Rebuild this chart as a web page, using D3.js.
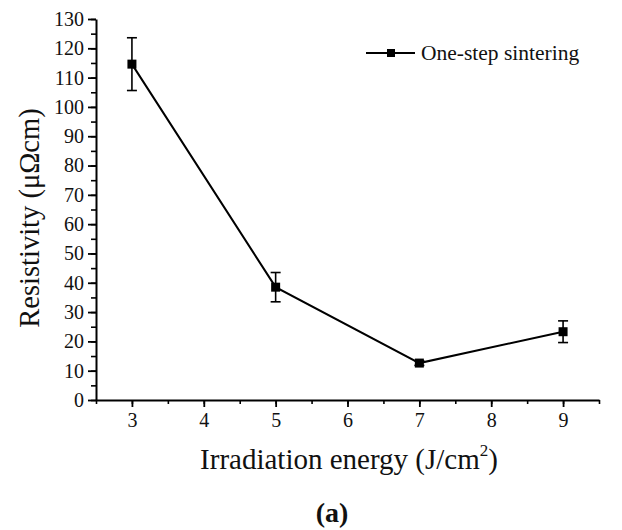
<!DOCTYPE html>
<html><head><meta charset="utf-8">
<script src="https://cdn.jsdelivr.net/npm/d3@7"></script>
<style>body{margin:0;background:#fff}svg{display:block}</style>
</head><body>
<svg id="c" width="622" height="530"></svg>
<script>
const energy = [3, 5, 7, 9];
const resistivity = [114.6, 38.5, 12.6, 23.3];
const errors = [9, 5, 0.8, 3.7];
const seriesName = "One-step sintering";
const xTicks = [3, 4, 5, 6, 7, 8, 9];
const yTicks = [0,10,20,30,40,50,60,70,80,90,100,110,120,130];

const svg = d3.select("#c");
const L = 96, R = 599, T = 19, B = 400;
const x = d3.scaleLinear().domain([2.5, 9.5]).range([L, R]);
const y = d3.scaleLinear().domain([0, 130]).range([B, T]);
const font = "'Liberation Serif', 'Times New Roman', serif";

// minor ticks
svg.append("g").attr("transform", `translate(0,${B})`)
  .call(d3.axisBottom(x).tickValues(d3.range(2.5, 9.51, 0.5)).tickSize(4).tickFormat(""))
  .call(g => g.select(".domain").remove())
  .selectAll("line").attr("stroke", "#000").attr("stroke-width", 1.6);
svg.append("g").attr("transform", `translate(${L},0)`)
  .call(d3.axisLeft(y).tickValues(d3.range(0, 131, 5)).tickSize(5).tickFormat(""))
  .call(g => g.select(".domain").remove())
  .selectAll("line").attr("stroke", "#000").attr("stroke-width", 1.6);

// major axes
const xa = svg.append("g").attr("transform", `translate(0,${B})`)
  .call(d3.axisBottom(x).tickValues(xTicks).tickFormat(d3.format("d")).tickSize(7).tickSizeOuter(0).tickPadding(6));
const ya = svg.append("g").attr("transform", `translate(${L},0)`)
  .call(d3.axisLeft(y).tickValues(yTicks).tickFormat(d3.format("d")).tickSize(8).tickSizeOuter(0).tickPadding(4));
[xa, ya].forEach(a => {
  a.select(".domain").attr("stroke", "#000").attr("stroke-width", 2);
  a.selectAll(".tick line").attr("stroke", "#000").attr("stroke-width", 1.8);
  a.selectAll("text").attr("font-family", font).attr("font-size", 20).attr("fill", "#111");
});

// error bars
const eb = svg.append("g").attr("stroke", "#000").attr("stroke-width", 1.6);
energy.forEach((e, i) => {
  const cx = x(e), y1 = y(resistivity[i] + errors[i]), y2 = y(resistivity[i] - errors[i]);
  eb.append("line").attr("x1", cx).attr("x2", cx).attr("y1", y1).attr("y2", y2);
  eb.append("line").attr("x1", cx - 5).attr("x2", cx + 5).attr("y1", y1).attr("y2", y1);
  eb.append("line").attr("x1", cx - 5).attr("x2", cx + 5).attr("y1", y2).attr("y2", y2);
});

// line
const data = energy.map((e, i) => [e, resistivity[i]]);
svg.append("path").datum(data)
  .attr("fill", "none").attr("stroke", "#000").attr("stroke-width", 2)
  .attr("d", d3.line().x(d => x(d[0])).y(d => y(d[1])));

// markers
svg.selectAll("rect.m").data(data).join("rect")
  .attr("x", d => x(d[0]) - 4.5).attr("y", d => y(d[1]) - 4.5)
  .attr("width", 9).attr("height", 9).attr("fill", "#000");

// legend
const lg = svg.append("g");
lg.append("line").attr("x1", 366).attr("x2", 415).attr("y1", 53).attr("y2", 53)
  .attr("stroke", "#000").attr("stroke-width", 2);
lg.append("rect").attr("x", 387).attr("y", 49).attr("width", 8).attr("height", 8).attr("fill", "#000");
lg.append("text").attr("x", 421).attr("y", 60).attr("font-family", font).attr("font-size", 21.5)
  .attr("fill", "#111").text(seriesName);

// axis titles
const xt = svg.append("text").attr("x", 349).attr("y", 469).attr("text-anchor", "middle")
  .attr("font-family", font).attr("font-size", 29).attr("fill", "#111");
xt.append("tspan").text("Irradiation energy (J/cm");
xt.append("tspan").attr("font-size", 17).attr("dy", -13).text("2");
xt.append("tspan").attr("dy", 13).text(")");

svg.append("text").attr("transform", "translate(39,218) rotate(-90)").attr("text-anchor", "middle")
  .attr("font-family", font).attr("font-size", 28.5).attr("fill", "#111").text("Resistivity (μΩcm)");

svg.append("text").attr("x", 332).attr("y", 522).attr("text-anchor", "middle")
  .attr("font-family", font).attr("font-size", 28).attr("font-weight", "bold").attr("fill", "#111").text("(a)");
</script>
</body></html>
